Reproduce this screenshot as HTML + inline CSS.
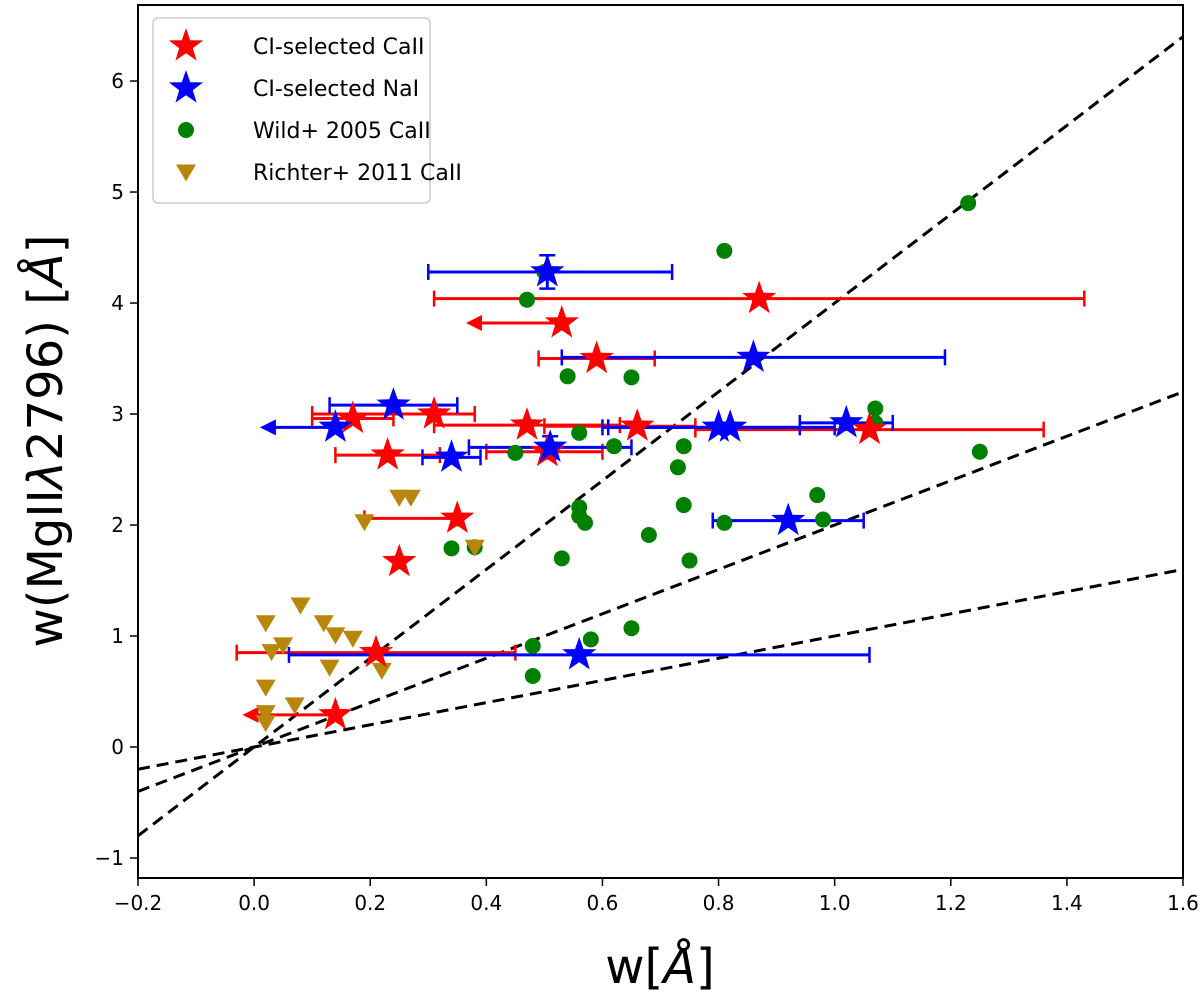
<!DOCTYPE html>
<html><head><meta charset="utf-8"><style>
html,body{margin:0;padding:0;background:#fff;}
svg{display:block;font-family:"DejaVu Sans","Liberation Sans",sans-serif;}
</style></head><body>
<svg id="chart" width="1200" height="996" viewBox="0 0 1200 996">
<defs><clipPath id="clip"><rect x="138" y="5" width="1045" height="873"/></clipPath></defs>
<g id="plot" clip-path="url(#clip)"></g>
<g id="axes"></g>
</svg>
<script>
const redX=[0.87,0.53,0.59,0.31,0.17,0.47,0.66,1.06,0.505,0.23,0.35,0.25,0.21,0.14];
const redY=[4.04,3.82,3.50,3.0,2.96,2.90,2.89,2.86,2.66,2.63,2.06,1.67,0.85,0.29];
const redLo=[0.31,0.365,0.49,0.10,0.10,0.31,0.50,0.76,0.40,0.14,0.19,null,-0.03,-0.02];
const redHi=[1.43,null,0.69,0.38,0.24,0.63,0.76,1.36,0.60,0.32,0.35,null,0.45,null];
const redArrow=[0,1,0,0,0,0,0,0,0,0,0,0,0,1];
const blueX=[0.505,0.86,0.24,0.14,0.80,0.82,1.02,0.51,0.34,0.92,0.56];
const blueY=[4.28,3.51,3.08,2.88,2.88,2.88,2.92,2.70,2.61,2.04,0.83];
const blueLo=[0.30,0.53,0.13,0.01,0.60,0.61,0.94,0.37,0.29,0.79,0.06];
const blueHi=[0.72,1.19,0.35,null,1.00,0.94,1.10,0.65,0.39,1.05,1.06];
const blueYerr=[0.15,0,0,0,0,0,0,0.1,0,0,0];
const blueArrow=[0,0,0,1,0,0,0,0,0,0,0];
const greenX=[1.23,0.81,0.50,0.47,0.54,0.65,1.07,1.07,0.56,0.62,0.45,0.74,0.73,1.25,0.56,0.56,0.57,0.68,0.74,0.75,0.81,0.97,0.98,0.34,0.38,0.53,0.48,0.48,0.58,0.65];
const greenY=[4.90,4.47,4.28,4.03,3.34,3.33,3.05,2.92,2.83,2.71,2.65,2.71,2.52,2.66,2.16,2.08,2.02,1.91,2.18,1.68,2.02,2.27,2.05,1.79,1.80,1.70,0.91,0.64,0.97,1.07];
const brownX=[0.25,0.27,0.19,0.38,0.08,0.02,0.12,0.14,0.17,0.03,0.05,0.13,0.22,0.02,0.02,0.07,0.02];
const brownY=[2.25,2.25,2.03,1.80,1.28,1.12,1.12,1.01,0.98,0.86,0.92,0.72,0.69,0.54,0.31,0.38,0.22];
const lineSlopes=[4,2,1];
const xTicks=[-0.2,0.0,0.2,0.4,0.6,0.8,1.0,1.2,1.4,1.6];
const yTicks=[-1,0,1,2,3,4,5,6];

const NS="http://www.w3.org/2000/svg";
const X0=138,X1=1183,Y0=878,Y1=5,xmin=-0.2,xmax=1.6,ymin=-1.18,ymax=6.685;
const sx=v=>X0+(v-xmin)/(xmax-xmin)*(X1-X0);
const sy=v=>Y0-(v-ymin)/(ymax-ymin)*(Y0-Y1);
const plot=document.getElementById('plot'),axes=document.getElementById('axes');
function mk(tag,attrs,parent){const e=document.createElementNS(NS,tag);for(const k in attrs)e.setAttribute(k,attrs[k]);parent.appendChild(e);return e;}
function starPath(cx,cy,R){let d='';for(let i=0;i<10;i++){const r=i%2?R*0.4:R;const a=-Math.PI/2+i*Math.PI/5;d+=(i?'L':'M')+(cx+r*Math.cos(a)).toFixed(1)+','+(cy+r*Math.sin(a)).toFixed(1);}return d+'Z';}
function triPath(cx,cy,r){return `M${cx-r},${cy-r*0.75}L${cx+r},${cy-r*0.75}L${cx},${cy+r*0.95}Z`;}

lineSlopes.forEach((s,i)=>{
  const l=mk('line',{x1:sx(xmin),y1:sy(s*xmin),x2:sx(xmax),y2:sy(s*xmax),stroke:'#000','stroke-width':3,'stroke-dasharray':'12,7'},plot);
  
  
});

function errSeries(xs,ys,lo,hi,arr,col,name,yerr){
  xs.forEach((x,i)=>{
    const g=mk('g',{},plot);
    
    
    const py=sy(ys[i]);
    if(lo[i]!==null&&lo[i]!==undefined){
      const right=hi[i]!==null?hi[i]:x;
      const xl=sx(lo[i]);
      mk('line',{x1:arr[i]?xl+6:xl,y1:py,x2:sx(right),y2:py,stroke:col,'stroke-width':3},g);
      if(arr[i]){mk('path',{d:`M${xl},${py}L${xl+16},${py-8}L${xl+16},${py+8}Z`,fill:col},g);}
      else mk('line',{x1:xl,y1:py-8,x2:xl,y2:py+8,stroke:col,'stroke-width':2.5},g);
      if(hi[i]!==null){const xh=sx(hi[i]);mk('line',{x1:xh,y1:py-8,x2:xh,y2:py+8,stroke:col,'stroke-width':2.5},g);}
    }
    if(yerr&&yerr[i]){const px=sx(x),a=sy(ys[i]+yerr[i]),b=sy(ys[i]-yerr[i]);
      mk('line',{x1:px,y1:a,x2:px,y2:b,stroke:col,'stroke-width':3},g);
      mk('line',{x1:px-8,y1:a,x2:px+8,y2:a,stroke:col,'stroke-width':2.5},g);
      mk('line',{x1:px-8,y1:b,x2:px+8,y2:b,stroke:col,'stroke-width':2.5},g);}
  });
}
errSeries(redX,redY,redLo,redHi,redArrow,'#ff0000','red-star');
errSeries(blueX,blueY,blueLo,blueHi,blueArrow,'#0000ff','blue-star',blueYerr);

greenX.forEach((x,i)=>{const c=mk('circle',{cx:sx(x),cy:sy(greenY[i]),r:8,fill:'#008000'},plot);
  
  });
brownX.forEach((x,i)=>{const p=mk('path',{d:triPath(sx(x),sy(brownY[i]),10),fill:'#b8860b'},plot);
  
  });
redX.forEach((x,i)=>{const p=mk('path',{d:starPath(sx(x),sy(redY[i]),18),fill:'#ff0000'},plot);
  
  });
blueX.forEach((x,i)=>{const p=mk('path',{d:starPath(sx(x),sy(blueY[i]),18),fill:'#0000ff'},plot);
  
  });

const fr=mk('rect',{x:X0,y:Y1,width:X1-X0,height:Y0-Y1,fill:'none',stroke:'#000','stroke-width':2},axes);


xTicks.forEach(t=>{const px=sx(t);
  mk('line',{x1:px,y1:Y0,x2:px,y2:Y0+8,stroke:'#000','stroke-width':1.5},axes);
  const tx=mk('text',{x:px,y:Y0+32,'text-anchor':'middle','font-size':20},axes);
  tx.textContent=(t<0?'\u2212':'')+Math.abs(t).toFixed(1);
  
  });
yTicks.forEach(t=>{const py=sy(t);
  mk('line',{x1:X0-8,y1:py,x2:X0,y2:py,stroke:'#000','stroke-width':1.5},axes);
  const tx=mk('text',{x:X0-14,y:py+7,'text-anchor':'end','font-size':20},axes);
  tx.textContent=(t<0?'\u2212':'')+Math.abs(t);
  
  });
const xl=mk('text',{x:660,y:983,'text-anchor':'middle','font-size':48},axes);
xl.innerHTML='w[<tspan font-style="italic">\u00C5</tspan>]';


const yl=mk('text',{x:0,y:0,'text-anchor':'middle','font-size':48,transform:'translate(62,441) rotate(-90)'},axes);
yl.innerHTML='w(MgII<tspan font-style="italic">\u03BB</tspan>2796) [<tspan font-style="italic">\u00C5</tspan>]';



const lg=mk('g',{},axes);


mk('rect',{x:153,y:18,width:277,height:185,rx:5,fill:'#fff',stroke:'#ccc','stroke-width':1.5},lg);
const labels=['CI-selected CaII','CI-selected NaI','Wild+ 2005 CaII','Richter+ 2011 CaII'];
labels.forEach((lab,i)=>{const y=46+i*42;
  if(i==0)mk('path',{d:starPath(186,y,18),fill:'#ff0000'},lg);
  if(i==1)mk('path',{d:starPath(186,y,18),fill:'#0000ff'},lg);
  if(i==2)mk('circle',{cx:186,cy:y,r:8,fill:'#008000'},lg);
  if(i==3)mk('path',{d:triPath(186,y,10),fill:'#b8860b'},lg);
  const t=mk('text',{x:253,y:y+8,'font-size':22},lg);
  t.textContent=lab;
  
  });
</script>
</body></html>
